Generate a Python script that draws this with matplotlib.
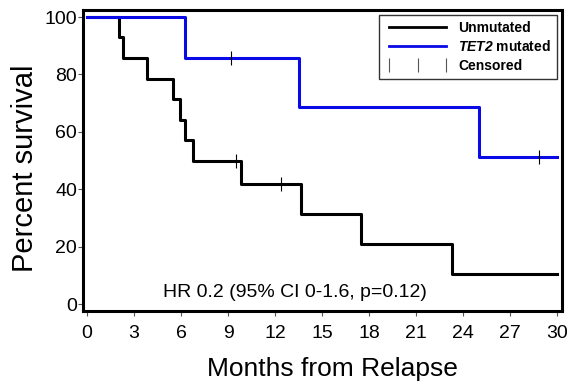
import matplotlib
matplotlib.use("Agg")
import matplotlib.pyplot as plt
from matplotlib.lines import Line2D

plt.rcParams['font.family'] = ['Liberation Sans', 'DejaVu Sans']
plt.rcParams['mathtext.fontset'] = 'custom'
plt.rcParams['mathtext.bf'] = 'Liberation Sans:italic:bold'

# Kaplan-Meier steps
unmut_t = [0, 2.05, 2.3, 3.8, 5.5, 5.95, 6.25, 6.75, 9.8, 13.65, 17.5, 23.3, 30]
unmut_s = [100, 92.9, 85.7, 78.6, 71.4, 64.3, 57.1, 50.0, 41.7, 31.3, 20.8, 10.4, 10.4]
unmut_cens_t = [9.5, 12.4]
unmut_cens_s = [50.0, 41.7]

tet2_t = [0, 6.25, 13.5, 25.0, 30]
tet2_s = [100, 85.7, 68.6, 51.4, 51.4]
tet2_cens_t = [9.2, 28.85]
tet2_cens_s = [85.7, 51.4]

xticks = list(range(0, 31, 3))
yticks = [0, 20, 40, 60, 80, 100]
blue = '#0a0ae6'

fig = plt.figure(figsize=(5.74, 3.89), dpi=100)
ax = fig.add_axes([0.1446, 0.2005, 0.8344, 0.7735])

ax.step(unmut_t, unmut_s, where='post', color='black', lw=2.2)
ax.step(tet2_t, tet2_s, where='post', color=blue, lw=2.2)
ax.plot(unmut_cens_t, unmut_cens_s, ls='none', marker='|', ms=9.5, mew=0.8, color='black')
ax.plot(tet2_cens_t, tet2_cens_s, ls='none', marker='|', ms=9.5, mew=0.8, color='black')

ax.set_xlim(-0.26, 30.3)
ax.set_ylim(-2.44, 102.44)
ax.set_xticks(xticks)
ax.set_yticks(yticks)
ax.tick_params(axis='both', labelsize=14, color='#555555', width=0.8, length=3.6)
ax.tick_params(axis='x', pad=6.5)
ax.tick_params(axis='y', pad=0.8)
for sp in ax.spines.values():
    sp.set_linewidth(2.2)

ax.set_xlabel('Months from Relapse', fontsize=19)
ax.set_ylabel('Percent survival', fontsize=21)
ax.xaxis.set_label_coords(0.52, -0.153)
ax.yaxis.set_label_coords(-0.092, 0.475)

ax.text(13.27, 2.4, 'HR 0.2 (95% CI 0-1.6, p=0.12)', ha='center', va='baseline', fontsize=14)

handles = [
    Line2D([], [], color='black', lw=2),
    Line2D([], [], color=blue, lw=2),
    Line2D([], [], ls='none', marker='|', ms=10, mew=0.8, color='#555555'),
]
labels = ['Unmutated', r'$\mathbf{TET2}$ mutated', 'Censored']
leg = ax.legend(handles, labels, loc='upper right', bbox_to_anchor=(0.99, 0.984),
                borderaxespad=0, numpoints=3, handlelength=4.7, handletextpad=0.55,
                labelspacing=0.3, borderpad=0.45, fancybox=False,
                prop={'weight': 'bold', 'size': 10})
leg.get_frame().set_edgecolor('black')
leg.get_frame().set_linewidth(1.0)

fig.savefig('out.png', dpi=100)
